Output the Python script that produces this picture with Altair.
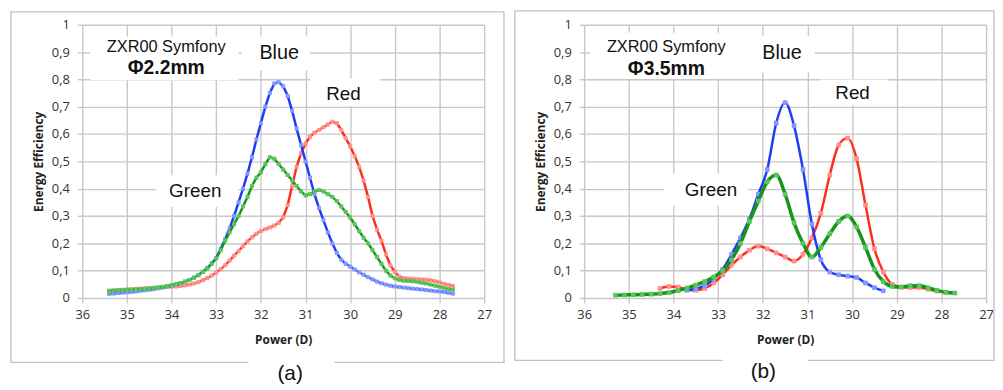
import altair as alt
import pandas as pd

# ---------------- data: panel (a)  Φ2.2mm ----------------
a_power = [35.4, 35.3, 35.2, 35.1, 35.0, 34.9, 34.8, 34.7, 34.6, 34.5,
           34.4, 34.3, 34.2, 34.1, 34.0, 33.9, 33.8, 33.7, 33.6, 33.5,
           33.4, 33.3, 33.2, 33.1, 33.0, 32.9, 32.8, 32.7, 32.6, 32.5,
           32.4, 32.3, 32.2, 32.1, 32.0, 31.9, 31.8, 31.7, 31.6, 31.5,
           31.4, 31.3, 31.2, 31.1, 31.0, 30.9, 30.8, 30.7, 30.6, 30.5,
           30.4, 30.3, 30.2, 30.1, 30.0, 29.9, 29.8, 29.7, 29.6, 29.5,
           29.4, 29.3, 29.2, 29.1, 29.0, 28.9, 28.8, 28.7, 28.6, 28.5,
           28.4, 28.3, 28.2, 28.1, 28.0, 27.9, 27.8, 27.7]
a_blue = [0.015, 0.016, 0.018, 0.019, 0.021, 0.022, 0.024, 0.026, 0.028, 0.030,
          0.032, 0.035, 0.038, 0.041, 0.045, 0.049, 0.054, 0.060, 0.066, 0.074,
          0.084, 0.096, 0.110, 0.127, 0.146, 0.180, 0.215, 0.255, 0.300, 0.350,
          0.400, 0.455, 0.515, 0.580, 0.640, 0.700, 0.750, 0.785, 0.790, 0.775,
          0.740, 0.685, 0.620, 0.560, 0.500, 0.440, 0.380, 0.330, 0.285, 0.240,
          0.200, 0.165, 0.140, 0.125, 0.115, 0.104, 0.094, 0.085, 0.076, 0.068,
          0.060, 0.054, 0.049, 0.045, 0.042, 0.040, 0.038, 0.036, 0.034, 0.033,
          0.031, 0.029, 0.027, 0.025, 0.024, 0.022, 0.019, 0.016]
a_red = [0.027, 0.028, 0.029, 0.030, 0.031, 0.032, 0.033, 0.034, 0.035, 0.036,
         0.037, 0.038, 0.039, 0.040, 0.041, 0.042, 0.044, 0.046, 0.049, 0.053,
         0.058, 0.065, 0.073, 0.082, 0.093, 0.105, 0.120, 0.137, 0.155, 0.172,
         0.190, 0.207, 0.222, 0.235, 0.245, 0.252, 0.258, 0.265, 0.275, 0.295,
         0.340, 0.410, 0.480, 0.530, 0.565, 0.590, 0.605, 0.615, 0.625, 0.635,
         0.645, 0.640, 0.615, 0.585, 0.555, 0.520, 0.480, 0.430, 0.370, 0.300,
         0.250, 0.210, 0.160, 0.120, 0.095, 0.078, 0.073, 0.071, 0.070, 0.069,
         0.068, 0.067, 0.065, 0.061, 0.057, 0.052, 0.048, 0.044]
a_green = [0.026, 0.027, 0.028, 0.029, 0.030, 0.031, 0.032, 0.033, 0.034, 0.036,
           0.037, 0.039, 0.041, 0.044, 0.047, 0.051, 0.055, 0.060, 0.066, 0.074,
           0.083, 0.095, 0.108, 0.125, 0.145, 0.175, 0.210, 0.240, 0.270, 0.300,
           0.335, 0.370, 0.410, 0.440, 0.460, 0.490, 0.515, 0.510, 0.490, 0.470,
           0.450, 0.430, 0.410, 0.390, 0.375, 0.380, 0.390, 0.395, 0.390, 0.380,
           0.370, 0.355, 0.335, 0.315, 0.295, 0.270, 0.245, 0.220, 0.200, 0.175,
           0.150, 0.125, 0.100, 0.082, 0.072, 0.066, 0.063, 0.062, 0.061, 0.059,
           0.056, 0.053, 0.049, 0.045, 0.041, 0.037, 0.033, 0.030]

# ---------------- data: panel (b)  Φ3.5mm ----------------
b_blue_power = [33.7, 33.5, 33.3, 33.1, 32.9, 32.7, 32.5, 32.3, 32.1, 31.9,
                31.7, 31.5, 31.3, 31.1, 30.9, 30.7, 30.5, 30.3, 30.1, 29.9,
                29.7, 29.5, 29.3]
b_blue = [0.028, 0.034, 0.045, 0.070, 0.105, 0.160, 0.220, 0.290, 0.380, 0.470,
          0.640, 0.715, 0.630, 0.470, 0.270, 0.140, 0.095, 0.085, 0.080, 0.075,
          0.055, 0.038, 0.026]
b_red_power = [34.3, 34.1, 33.9, 33.7, 33.5, 33.3, 33.1, 32.9, 32.7, 32.5,
               32.3, 32.1, 31.9, 31.7, 31.5, 31.3, 31.1, 30.9, 30.7, 30.5,
               30.3, 30.1, 29.9, 29.7, 29.5, 29.3, 29.1, 28.9, 28.7, 28.5,
               28.3, 28.1, 27.9]
b_red = [0.035, 0.042, 0.040, 0.030, 0.028, 0.035, 0.055, 0.085, 0.120, 0.150,
         0.175, 0.190, 0.180, 0.165, 0.150, 0.135, 0.160, 0.220, 0.310, 0.450,
         0.560, 0.585, 0.510, 0.340, 0.180, 0.095, 0.050, 0.040, 0.038, 0.038,
         0.032, 0.025, 0.020]
b_green_power = [35.3, 35.1, 34.9, 34.7, 34.5, 34.3, 34.1, 33.9, 33.7, 33.5,
                 33.3, 33.1, 32.9, 32.7, 32.5, 32.3, 32.1, 31.9, 31.7, 31.5,
                 31.3, 31.1, 30.9, 30.7, 30.5, 30.3, 30.1, 29.9, 29.7, 29.5,
                 29.3, 29.1, 28.9, 28.7, 28.5, 28.3, 28.1, 27.9, 27.7]
b_green = [0.010, 0.011, 0.012, 0.013, 0.014, 0.016, 0.020, 0.027, 0.036, 0.047,
           0.060, 0.077, 0.100, 0.140, 0.200, 0.280, 0.355, 0.425, 0.450, 0.380,
           0.275, 0.200, 0.150, 0.185, 0.235, 0.280, 0.300, 0.260, 0.185, 0.105,
           0.060, 0.042, 0.040, 0.045, 0.045, 0.037, 0.028, 0.021, 0.018]

x_ticks = [27, 28, 29, 30, 31, 32, 33, 34, 35, 36]
y_ticks = [0, 0.1, 0.2, 0.3, 0.4, 0.5, 0.6, 0.7, 0.8, 0.9, 1]

for p, v in [(a_power, a_blue), (a_power, a_red), (a_power, a_green),
             (b_blue_power, b_blue), (b_red_power, b_red), (b_green_power, b_green)]:
    assert len(p) == len(v), (len(p), len(v))

# annotation texts
a_notes = {"title": "ZXR00 Symfony", "sub": "\u03a62.2mm", "label": "(a)"}
b_notes = {"title": "ZXR00 Symfony", "sub": "\u03a63.5mm", "label": "(b)"}

# ---------------- styling ----------------
COLORS = {"Blue": "#1f3cf5", "Red": "#ff2d1f", "Green": "#14961a"}
MARKERS = {"Blue": "#8098ff", "Red": "#ff9088", "Green": "#5cc45c"}
W, H = 406, 276

SCALE_X = alt.Scale(domain=[27, 36], reverse=True, nice=False, zero=False)
SCALE_Y = alt.Scale(domain=[0, 1], nice=False, zero=False)
AX_X = alt.Axis(values=x_ticks, title="Power (D)", format="d", labelFlush=False,
                labelPadding=6, titlePadding=13)
AX_Y = alt.Axis(values=y_ticks, title="Energy Efficiency",
                labelExpr="replace(format(datum.value, '.1~f'), '.', ',')",
                labelPadding=8, titlePadding=6)


def X(f):
    return alt.X(f"{f}:Q", scale=SCALE_X, axis=AX_X)


def Y(f):
    return alt.Y(f"{f}:Q", scale=SCALE_Y, axis=AX_Y)


def series_layers(power, vals, name, width, interp, msize):
    df = pd.DataFrame({"D": power, "v": vals})
    base = alt.Chart(df).encode(x=X("D"), y=Y("v"))
    line = base.mark_line(color=COLORS[name], strokeWidth=width,
                          interpolate=interp)
    pts = base.mark_point(shape="square", filled=True, size=msize,
                          color=MARKERS[name], opacity=1)
    return [line, pts]


def panel(series, boxes, texts, notes, frame, gap, interp, msize):
    one = alt.Data(values=[{}])
    fr = alt.Chart(one).mark_rect(fillOpacity=0, stroke="#c2c2c2",
                                  strokeWidth=1.4).encode(
        x=alt.value(frame[0]), x2=alt.value(frame[1]),
        y=alt.value(frame[2]), y2=alt.value(frame[3]))
    gp = alt.Chart(one).mark_rect(fill="white").encode(
        x=alt.value(gap[0]), x2=alt.value(gap[1]),
        y=alt.value(frame[3] - 3), y2=alt.value(frame[3] + 3))
    bx = alt.Chart(pd.DataFrame(boxes, columns=["D", "D2", "v", "v2"])).mark_rect(
        fill="white").encode(x=X("D"), x2=alt.X2("D2"), y=Y("v"), y2=alt.Y2("v2"))
    layers = [fr, gp, bx]
    for s in series:
        layers += series_layers(*s, interp, msize)
    tdf = pd.DataFrame(texts, columns=["D", "v", "t", "fs"])
    tx = alt.Chart(tdf).mark_text(font="Liberation Sans", color="#111").encode(
        x=X("D"), y=Y("v"), text="t:N", size=alt.Size("fs:Q", scale=None))
    bold = alt.Chart(pd.DataFrame([{"D": notes["D"], "v": notes["v"],
                                    "t": notes["sub"]}])).mark_text(
        font="Liberation Sans", fontWeight="bold", fontSize=19.5, color="#111").encode(
        x=X("D"), y=Y("v"), text="t:N")
    lab = alt.Chart(alt.Data(values=[{"t": notes["label"]}])).mark_text(
        font="Liberation Sans", fontSize=21, baseline="bottom", color="#111").encode(
        x=alt.value(notes["lx"]), y=alt.value(frame[3] + 22), text="t:N")
    layers += [tx, bold, lab]
    return alt.layer(*layers).properties(width=W, height=H)


pa = panel(
    series=[(a_power, a_red, "Red", 2.5), (a_power, a_blue, "Blue", 2.5),
            (a_power, a_green, "Green", 2.5)],
    boxes=[(35.82, 32.50, 0.957, 0.797), (32.43, 30.90, 0.957, 0.833),
           (30.90, 29.33, 0.804, 0.703), (34.34, 32.50, 0.449, 0.333)],
    texts=[(34.12, 0.92, a_notes["title"], 16.5), (31.59, 0.895, "Blue", 20),
           (30.15, 0.747, "Red", 19), (33.47, 0.39, "Green", 19)],
    notes=dict(a_notes, D=34.12, v=0.84, lx=210),
    frame=(-72, 426, -13, 341), gap=(168, 255), interp="linear", msize=16)

pb = panel(
    series=[(b_red_power, b_red, "Red", 2.5), (b_blue_power, b_blue, "Blue", 2.5),
            (b_green_power, b_green, "Green", 3.5)],
    boxes=[(35.87, 32.50, 0.971, 0.801), (32.50, 30.83, 0.96, 0.826),
           (30.72, 29.22, 0.80, 0.707), (34.20, 32.32, 0.457, 0.337)],
    texts=[(34.16, 0.917, b_notes["title"], 16.5), (31.57, 0.896, "Blue", 20),
           (29.99, 0.751, "Red", 19), (33.16, 0.395, "Green", 19)],
    notes=dict(b_notes, D=34.16, v=0.838, lx=181),
    frame=(-70, 414, -14, 339), gap=(140, 226), interp="monotone", msize=22)

chart = alt.hconcat(pa, pb, spacing=9).properties(
    padding={"left": 2, "top": 0, "right": 0, "bottom": 0}
).configure_view(strokeOpacity=0).configure_axis(
    domain=False, grid=True, gridColor="#c8c8c8", gridWidth=1.4,
    ticks=True, tickColor="#c8c8c8", tickWidth=1.4, tickSize=5,
    labelFont="Open Sans", labelFontSize=13, labelColor="#333",
    titleFont="Open Sans", titleFontSize=12, titleFontWeight="bold",
    titleColor="#222"
)

chart.save("out.html", embed_options={"renderer": "svg", "actions": False})
